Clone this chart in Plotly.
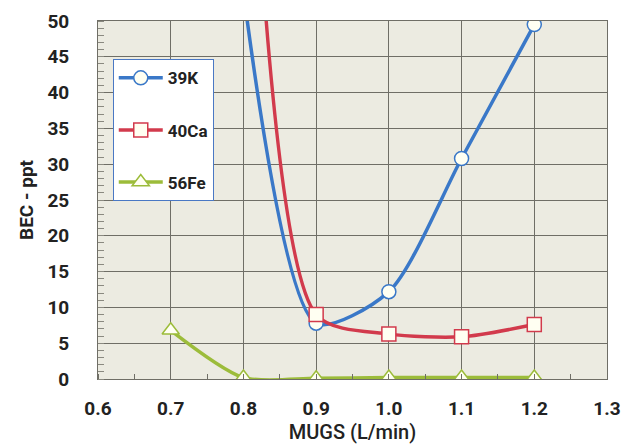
import plotly.graph_objects as go

mugs_k = [0.8, 0.9, 1.0, 1.1, 1.2]
bec_k = [54.0, 7.8, 12.2, 30.8, 49.5]

mugs_ca = [0.8, 0.9, 1.0, 1.1, 1.2]
bec_ca = [105.0, 9.0, 6.3, 5.9, 7.6]

mugs_fe = [0.7, 0.8, 0.9, 1.0, 1.1, 1.2]
bec_fe = [6.8, 0.2, 0.1, 0.2, 0.2, 0.2]

x_ticks = [0.6, 0.7, 0.8, 0.9, 1.0, 1.1, 1.2, 1.3]
x_labels = ["0.6", "0.7", "0.8", "0.9", "1.0", "1.1", "1.2", "1.3"]
y_ticks = list(range(0, 55, 5))

FONT = "Roboto, Liberation Sans Narrow, sans-serif"
GRID = "#6f6e66"

series = [
    ("39K", mugs_k, bec_k, "#3a78c8", "circle"),
    ("40Ca", mugs_ca, bec_ca, "#d23a4c", "square"),
    ("56Fe", mugs_fe, bec_fe, "#9cbc3a", "triangle-up"),
]

fig = go.Figure()
for name, xs, ys, col, sym in series:
    fig.add_trace(go.Scatter(
        x=xs, y=ys, name=name, mode="lines+markers",
        line=dict(color=col, width=3.5, shape="spline", smoothing=0.75),
        marker=dict(symbol=sym, size=14 if sym != "triangle-up" else 15,
                    color="#fffff2", line=dict(color=col, width=1.5)),
        legendgroup=name,
    ))

fig.update_layout(
    width=621, height=447,
    margin=dict(l=98, r=14, t=21, b=68, autoexpand=False),
    paper_bgcolor="white",
    plot_bgcolor="#ecebe1",
    font=dict(family=FONT, color="#1a1a1a"),
    showlegend=True,
    legend=dict(
        x=0.029, y=0.893, xanchor="left", yanchor="top",
        bgcolor="white", bordercolor="#4a78c4", borderwidth=1,
        font=dict(family=FONT, size=17, color="#222", weight="bold"),
        tracegroupgap=27, itemwidth=44,
    ),
)
fig.update_xaxes(
    automargin=False,
    range=[0.6, 1.3], tickvals=x_ticks, ticktext=x_labels,
    showgrid=True, gridcolor=GRID, gridwidth=1,
    showline=True, linecolor=GRID, mirror=True, zeroline=False,
    ticks="", ticklabelstandoff=12,
    tickfont=dict(size=19, family=FONT, color="#222", weight="bold"),
    minor=dict(ticks="inside", dtick=0.05, ticklen=5, tickcolor=GRID, showgrid=False),
    title=dict(text="MUGS (L/min)", font=dict(size=20, family=FONT, color="#222", weight=500), standoff=6),
)
fig.update_yaxes(
    automargin=False,
    range=[0, 50], tickvals=y_ticks,
    showgrid=True, gridcolor=GRID, gridwidth=1,
    showline=True, linecolor=GRID, mirror=True, zeroline=False,
    ticks="", ticklabelstandoff=24,
    tickfont=dict(size=19, family=FONT, color="#222", weight="bold"),
    minor=dict(ticks="inside", dtick=1, ticklen=6, tickcolor="#8a8980", showgrid=False),
    title=dict(text="BEC - ppt", font=dict(size=19, family=FONT, color="#222", weight="bold"), standoff=8),
)

fig.write_html("out.html")
